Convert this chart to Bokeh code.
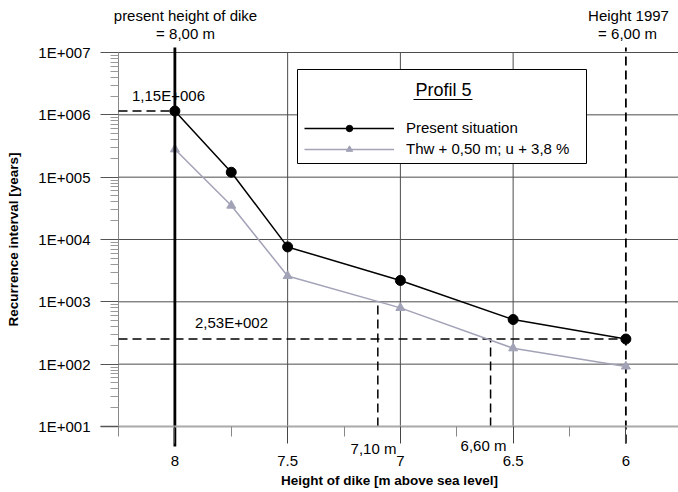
from bokeh.plotting import figure
from bokeh.models import Range1d, FixedTicker, Legend, LegendItem, Label, BoxAnnotation
from bokeh.embed import file_html
from bokeh.resources import INLINE

# ---------------- data ----------------
heights = [8.0, 7.75, 7.5, 7.0, 6.5, 6.0]
present = [1.15e6, 1.2e5, 7.6e3, 2.2e3, 5.2e2, 2.53e2]
future = [2.8e5, 3.5e4, 2.6e3, 8.0e2, 1.8e2, 9.2e1]
series_names = ["Present situation", "Thw + 0,50 m; u + 3,8 %"]
legend_title = "Profil 5"

x_ticks = [8, 7.5, 7, 6.5, 6]
x_tick_labels = ["8", "7.5", "7", "6.5", "6"]
x_minor_ticks = [8.25, 7.75, 7.25, 6.75, 6.25]
y_ticks = [1e1, 1e2, 1e3, 1e4, 1e5, 1e6, 1e7]
y_tick_labels = ["1E+001", "1E+002", "1E+003", "1E+004", "1E+005", "1E+006", "1E+007"]

present_height = 8.0
height_1997 = 6.0
present_value = 1.15e6
value_1997 = 2.53e2
crossing_heights = [7.10, 6.60]
crossing_levels = [1.0e3, 2.53e2]
crossing_labels = ["7,10 m", "6,60 m"]

FONT = "Liberation Sans"

# helpers: page pixel -> data (used to place annotations / frame extents)
FRAME_L, FRAME_T, PX_PER_M, PX_PER_DEC = 118.0, 52.0, 225.5, 62.33
X0 = 8.25
Y_LO, Y_HI = y_ticks[0], y_ticks[-1]


def px_x(px):
    return X0 - (px - FRAME_L) / PX_PER_M


def px_y(py):
    return 10 ** (7 - (py - FRAME_T) / PX_PER_DEC)


W, H = 678, 492
X_END = px_x(W)
p = figure(width=W, height=H,
           x_range=Range1d(px_x(0), X_END), y_range=Range1d(px_y(H), px_y(0)),
           y_axis_type="log", output_backend="svg", toolbar_location=None,
           min_border_left=0, min_border_right=0, min_border_top=0,
           min_border_bottom=0)
p.outline_line_color = None
p.background_fill_color = "white"
p.border_fill_color = "white"

# axes (drawn at fixed positions inside the full-size frame)
p.xaxis.fixed_location = Y_LO
p.xaxis.bounds = (X_END, px_x(100))
p.xaxis.ticker = FixedTicker(ticks=x_ticks, minor_ticks=x_minor_ticks)
p.xaxis.major_label_overrides = {t: l for t, l in zip(x_ticks, x_tick_labels)}
p.yaxis.fixed_location = X0
p.yaxis.bounds = (Y_LO, Y_HI)
p.yaxis.ticker = FixedTicker(
    ticks=y_ticks,
    minor_ticks=[m * t for t in y_ticks[:-1] for m in range(2, 10)])
p.yaxis.major_label_overrides = {t: l for t, l in zip(y_ticks, y_tick_labels)}

p.xaxis.axis_label = "Height of dike [m above sea level]"
p.yaxis.axis_label = "Recurrence interval [years]"
for ax in (p.xaxis, p.yaxis):
    ax.axis_label_text_font = FONT
    ax.axis_label_text_font_style = "bold"
    ax.axis_label_text_font_size = "13.5px"
    ax.axis_label_text_color = "black"
    ax.major_label_text_font = FONT
    ax.major_label_text_font_size = "15px"
    ax.major_label_text_color = "black"
    ax.major_tick_in = 0
    ax.minor_tick_in = 0

p.xaxis.axis_line_color = "#aaaaaa"
p.xaxis.axis_line_width = 2
p.xaxis.major_tick_line_color = "#444444"
p.xaxis.major_tick_out = 17
p.xaxis.minor_tick_line_color = "#888888"
p.xaxis.minor_tick_out = 10
p.xaxis.major_label_standoff = 13
p.xaxis.axis_label_standoff = 3

p.yaxis.axis_line_color = None
p.yaxis.major_tick_line_color = "#555555"
p.yaxis.major_tick_out = 18
p.yaxis.minor_tick_line_color = "#999999"
p.yaxis.minor_tick_out = 8
p.yaxis.major_label_standoff = 10
p.yaxis.axis_label_standoff = 14

p.xgrid.visible = False
p.ygrid.visible = False

GRID = "#4d4d4d"
# frame line and grid lines, limited to the value area
p.segment(x0=[X0] * 7, y0=y_ticks, x1=[X_END] * 7, y1=y_ticks, line_color=GRID, line_width=1)
p.segment(x0=x_ticks[1:-1], y0=[Y_LO] * 3, x1=x_ticks[1:-1], y1=[Y_HI] * 3,
          line_color=GRID, line_width=1)
p.segment(x0=[X0], y0=[px_y(435)], x1=[X0], y1=[Y_HI], line_color="#888888", line_width=1)

DASH = "9 5"
# dashed guides
p.segment(x0=[X0, X0], y0=[present_value, value_1997],
          x1=[present_height, height_1997], y1=[present_value, value_1997],
          line_color="black", line_width=1.5, line_dash=DASH)
p.segment(x0=crossing_heights, y0=[Y_LO, Y_LO], x1=crossing_heights, y1=crossing_levels,
          line_color="black", line_width=1.5, line_dash=DASH)
p.segment(x0=[height_1997], y0=[px_y(443)], x1=[height_1997], y1=[px_y(47)],
          line_color="black", line_width=1.8, line_dash=DASH)

# series
GREY = "#a3a3b8"
l2 = p.line(heights, future, line_color=GREY, line_width=1.5)
s2 = p.scatter(heights, future, marker="triangle", size=9, fill_color=GREY, line_color=GREY)
l1 = p.line(heights, present, line_color="black", line_width=1.5)
s1 = p.scatter(heights, present, marker="circle", size=10, fill_color="black", line_color="black")

# present height of dike (thick vertical line)
p.segment(x0=[present_height], y0=[px_y(446)], x1=[present_height], y1=[px_y(47)],
          line_color="black", line_width=2.8)

# legend box (white background, covers the grid) + legend entries
p.add_layout(BoxAnnotation(left=px_x(297), right=px_x(586), top=px_y(69), bottom=px_y(163),
                           fill_color="white", fill_alpha=1, line_color="black",
                           line_alpha=1, line_width=1))
legend = Legend(items=[LegendItem(label=series_names[0], renderers=[l1, s1]),
                       LegendItem(label=series_names[1], renderers=[l2, s2])],
                location=(304, H - 157), title=" ", title_text_font_size="15px",
                title_standoff=23, padding=8, margin=0, spacing=4,
                glyph_width=90, glyph_height=16, label_height=16, label_width=169,
                label_standoff=12, label_text_font=FONT, label_text_font_size="15px",
                label_text_color="black", border_line_color=None,
                background_fill_alpha=0)
p.add_layout(legend)


# texts
def add_text(txt, cx, cy, size="15px"):
    lab = Label(x=px_x(cx), y=px_y(cy), text=txt, text_align="center",
                text_baseline="middle", text_font=FONT, text_font_size=size,
                text_color="black", level="overlay")
    p.add_layout(lab)


add_text("present height of dike", 185, 15)
add_text("= 8,00 m", 185, 33)
add_text("Height 1997", 628, 15)
add_text("= 6,00 m", 627, 33)
add_text("1,15E+006", 168, 95)
add_text("2,53E+002", 231, 322)
add_text(crossing_labels[0], 373, 448)
add_text(crossing_labels[1], 483, 445)
add_text(legend_title, 443, 89, size="18px")
# underline of the legend title
p.segment(x0=[px_x(413)], y0=[px_y(99)], x1=[px_x(472)], y1=[px_y(99)],
          line_color="black", line_width=1, level="overlay")

open("out.html", "w").write(file_html(p, INLINE))
